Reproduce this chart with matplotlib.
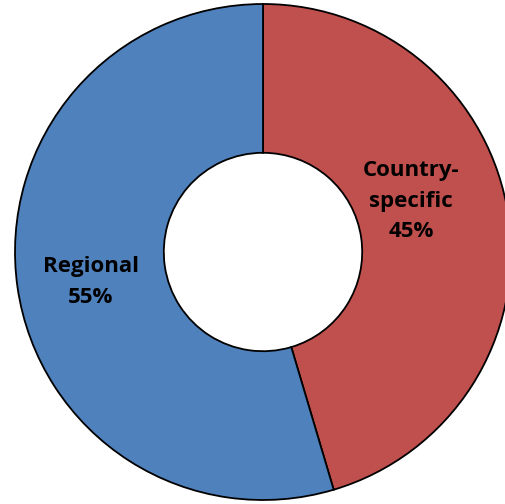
import matplotlib
matplotlib.use("Agg")
import matplotlib.pyplot as plt

categories = ["Country-\nspecific", "Regional"]
values = [45.4, 54.6]
colors = ["#C0504D", "#4F81BD"]

fig = plt.figure(figsize=(5.05, 5.04), dpi=100)
cx, cy, r = 263, 252, 248
W, H = 505, 504
ax = fig.add_axes([(cx - r) / W, (H - cy - r) / H, 2 * r / W, 2 * r / H])
wedges, _ = ax.pie(values, colors=colors, startangle=90, counterclock=False,
                   radius=1.0,
                   wedgeprops=dict(width=0.6, edgecolor="black", linewidth=1.3))
for w in wedges:
    w.set_clip_on(False)
ax.set_xlim(-1, 1)
ax.set_ylim(-1, 1)
ax.set_aspect("equal")
ax.axis("off")

# labels
ax.text((411 - cx) / r, (cy - 201) / r, f"{categories[0]}\n{round(values[0])}%",
        ha="center", va="center", fontsize=16, fontweight="bold",
        family="Open Sans", linespacing=1.6)
ax.text((91 - cx) / r, (cy - 282) / r, f"{categories[1]}\n{round(values[1])}%",
        ha="center", va="center", fontsize=16, fontweight="bold",
        family="Open Sans", linespacing=1.6)

fig.savefig("out.png", dpi=100)
